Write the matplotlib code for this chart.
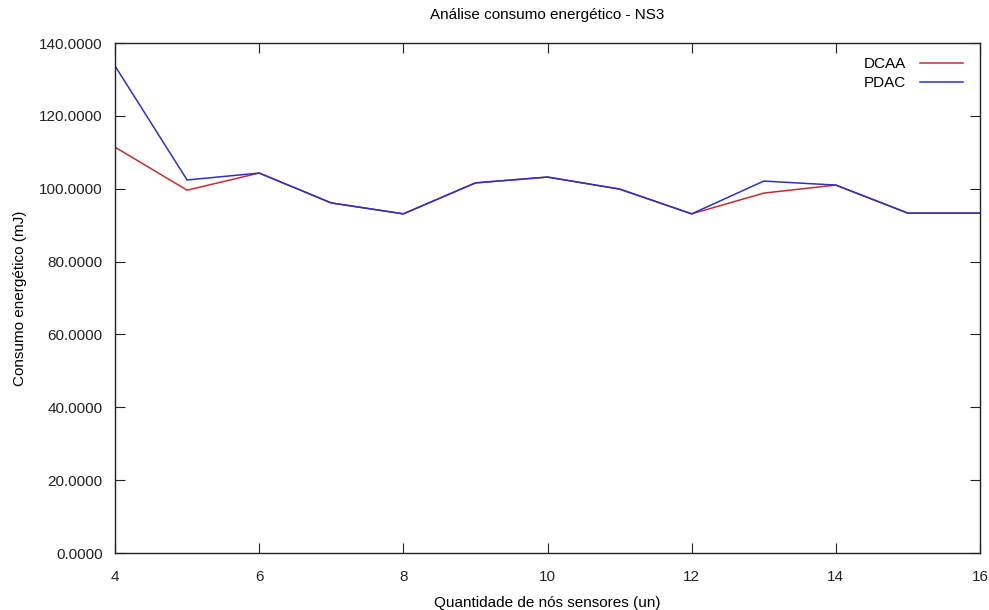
import matplotlib
matplotlib.use("Agg")
import matplotlib.pyplot as plt

plt.rcParams["font.family"] = ["Liberation Sans", "DejaVu Sans"]

# numero de nos sensores
nodes = [4, 5, 6, 7, 8, 9, 10, 11, 12, 13, 14, 15, 16]
# consumo energetico (mJ)
dcaa = [111.4, 99.6, 104.3, 96.1, 93.1, 101.6, 103.2, 99.9, 93.1, 98.8, 101.0, 93.3, 93.3]
pdac = [133.7, 102.4, 104.3, 96.1, 93.1, 101.6, 103.2, 99.9, 93.1, 102.1, 101.0, 93.3, 93.3]

xticks = [4, 6, 8, 10, 12, 14, 16]
yticks = [0, 20, 40, 60, 80, 100, 120, 140]

fs = 11
fig = plt.figure(figsize=(9.89, 6.10), dpi=100)
ax = fig.add_axes([0.1163, 0.0934, 0.8746, 0.8361])

ax.plot(nodes, dcaa, color="#c03030", linewidth=1.1, label="DCAA")
ax.plot(nodes, pdac, color="#3030c0", linewidth=1.1, label="PDAC")

ax.set_xlim(4, 16)
ax.set_ylim(0, 140)
ax.set_xticks(xticks)
ax.set_yticks(yticks)
ax.set_yticklabels([f"{v:.4f}" for v in yticks])
ax.tick_params(direction="in", top=True, right=True, length=7, width=0.8,
               labelsize=fs, colors="#222222")
ax.tick_params(axis="y", pad=9)
ax.tick_params(axis="x", pad=12)
for s in ax.spines.values():
    s.set_linewidth(1.0)
    s.set_color("#222222")

ax.set_title("Análise consumo energético - NS3", fontsize=fs, pad=17)
ax.set_xlabel("Quantidade de nós sensores (un)", fontsize=fs, labelpad=9)
ax.set_ylabel("Consumo energético (mJ)", fontsize=fs, labelpad=8.5)

leg = ax.legend(loc="upper right", frameon=False, markerfirst=False,
                fontsize=fs, handlelength=2.8, handletextpad=0.9,
                labelspacing=0.35, borderaxespad=0,
                bbox_to_anchor=(969 / 989, 559 / 610),
                bbox_transform=fig.transFigure)
for t in leg.get_texts():
    t.set_ha("right")

fig.savefig("out.png", dpi=100)
